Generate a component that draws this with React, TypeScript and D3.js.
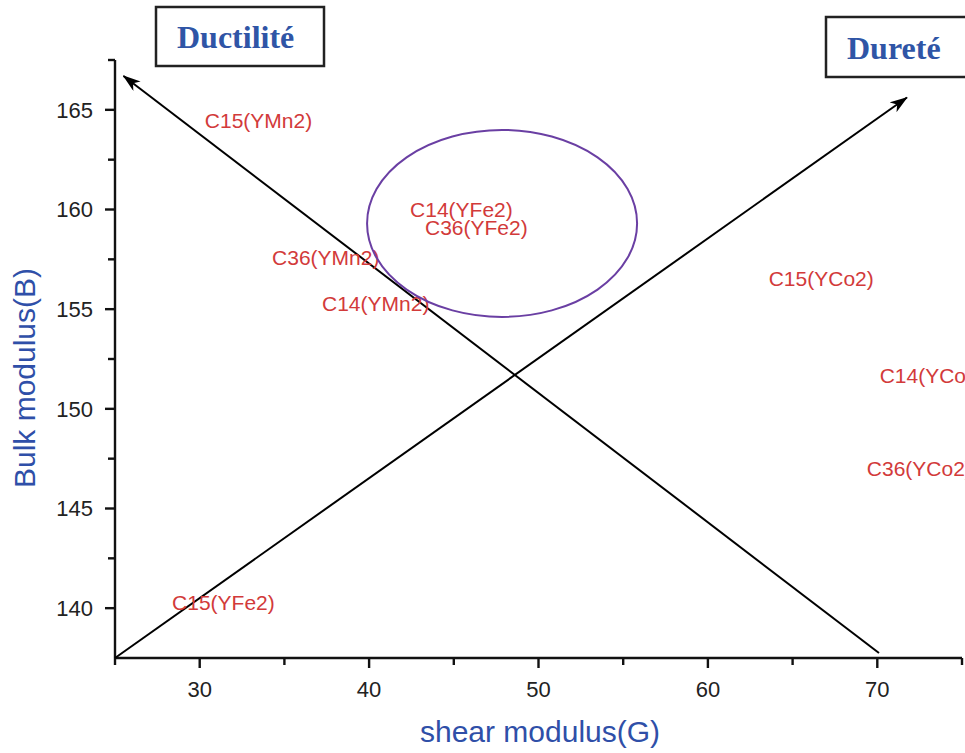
import React from "react";
import * as d3 from "d3";

// Compound labels placed at their (G, B) values
const compounds = [
  "C15(YMn2)",
  "C14(YFe2)",
  "C36(YFe2)",
  "C36(YMn2)",
  "C14(YMn2)",
  "C15(YCo2)",
  "C14(YCo2)",
  "C36(YCo2)",
  "C15(YFe2)",
];
const shearG = [30.3, 42.42, 43.3, 34.27, 37.22, 63.59, 70.14, 69.38, 28.37];
const bulkB = [164.49, 160.02, 159.12, 157.62, 155.31, 156.56, 151.69, 147.03, 140.31];

const xTicks = [30, 40, 50, 60, 70];
const xMinorTicks = [35, 45, 55, 65, 75];
const yTicks = [140, 145, 150, 155, 160, 165];
const yMinorTicks = [142.5, 147.5, 152.5, 157.5, 162.5, 167.5];

// Trend arrows (start -> tip) in data units
const ductilityArrow = [
  [70.1, 137.75],
  [25.5, 166.7],
];
const hardnessArrow = [
  [25.0, 137.5],
  [71.75, 165.62],
];

// Highlighted YFe2 cluster (center and radii in data units)
const clusterCenter = [47.85, 159.3];
const clusterRadius = [7.97, 4.69];

const W = 965;
const H = 753;

export default function App() {
  const x = d3.scaleLinear().domain([25, 75]).range([115, 962]);
  const y = d3.scaleLinear().domain([137.5, 167.5]).range([658, 60]);

  const axisColor = "#111";
  const labelRed = "#d23a3a";
  const titleBlue = "#2f4fa8";
  const boxBlue = "#2f55a6";

  const line = d3
    .line<number[]>()
    .x((d) => x(d[0]))
    .y((d) => y(d[1]));

  return (
    <svg
      width={W}
      height={H}
      viewBox={`0 0 ${W} ${H}`}
      style={{ position: "absolute", left: 0, top: 0, background: "#fff", overflow: "hidden" }}
    >
      <defs>
        <marker
          id="arrowHead"
          viewBox="0 0 18 12"
          refX="17"
          refY="6"
          markerWidth="18"
          markerHeight="12"
          markerUnits="userSpaceOnUse"
          orient="auto"
        >
          <path d="M0,0 L18,6 L0,12 L5,6 Z" fill="#000" />
        </marker>
      </defs>

      {/* Axes */}
      <g fontFamily="Arial, 'Liberation Sans', sans-serif">
        <line x1={x(25)} x2={x(75)} y1={y(137.5)} y2={y(137.5)} stroke={axisColor} strokeWidth={2.4} />
        <line x1={x(25)} x2={x(25)} y1={y(137.5)} y2={y(167.5)} stroke={axisColor} strokeWidth={2.4} />

        {xTicks.map((t) => (
          <g key={`xt${t}`}>
            <line x1={x(t)} x2={x(t)} y1={y(137.5)} y2={y(137.5) + 10} stroke={axisColor} strokeWidth={2.4} />
            <text x={x(t)} y={697} textAnchor="middle" fontSize={22} fill="#222">
              {t}
            </text>
          </g>
        ))}
        {xMinorTicks.map((t) => (
          <line key={`xm${t}`} x1={x(t)} x2={x(t)} y1={y(137.5)} y2={y(137.5) + 7} stroke={axisColor} strokeWidth={2.4} />
        ))}
        <line x1={x(25)} x2={x(25)} y1={y(137.5)} y2={y(137.5) + 7} stroke={axisColor} strokeWidth={2.4} />

        {yTicks.map((t) => (
          <g key={`yt${t}`}>
            <line x1={x(25) - 10} x2={x(25)} y1={y(t)} y2={y(t)} stroke={axisColor} strokeWidth={2.4} />
            <text x={93} y={y(t)} dy="0.36em" textAnchor="end" fontSize={22} fill="#222">
              {t}
            </text>
          </g>
        ))}
        {yMinorTicks.map((t) => (
          <line key={`ym${t}`} x1={x(25) - 7} x2={x(25)} y1={y(t)} y2={y(t)} stroke={axisColor} strokeWidth={2.4} />
        ))}

        <text x={540} y={742} textAnchor="middle" fontSize={30} fill={titleBlue}>
          shear modulus(G)
        </text>
        <text
          transform={`translate(35, 378) rotate(-90)`}
          textAnchor="middle"
          fontSize={30}
          fill={titleBlue}
        >
          Bulk modulus(B)
        </text>
      </g>

      {/* Trend arrows */}
      <path d={line(ductilityArrow) || ""} fill="none" stroke="#000" strokeWidth={2} markerEnd="url(#arrowHead)" />
      <path d={line(hardnessArrow) || ""} fill="none" stroke="#000" strokeWidth={2} markerEnd="url(#arrowHead)" />

      {/* Compound labels */}
      <g fontFamily="Arial, 'Liberation Sans', sans-serif" fontSize={21} fill={labelRed}>
        {compounds.map((c, i) => (
          <text key={c} x={x(shearG[i])} y={y(bulkB[i])} dy="0.36em">
            {c}
          </text>
        ))}
      </g>

      {/* Cluster highlight */}
      <ellipse
        cx={x(clusterCenter[0])}
        cy={y(clusterCenter[1])}
        rx={x(clusterCenter[0] + clusterRadius[0]) - x(clusterCenter[0])}
        ry={y(clusterCenter[1]) - y(clusterCenter[1] + clusterRadius[1])}
        fill="none"
        stroke="#6a3fa3"
        strokeWidth={2}
      />

      {/* Direction captions */}
      <g fontFamily="'Liberation Serif', 'Times New Roman', serif" fontWeight="bold" fontSize={32} fill={boxBlue}>
        <rect x={156} y={7} width={168} height={59} fill="#fff" stroke="#222" strokeWidth={2.5} />
        <text x={177} y={48}>
          Ductilité
        </text>
        <rect x={826} y={17} width={142} height={60} fill="#fff" stroke="#222" strokeWidth={2.5} />
        <text x={847} y={59}>
          Dureté
        </text>
      </g>
    </svg>
  );
}
